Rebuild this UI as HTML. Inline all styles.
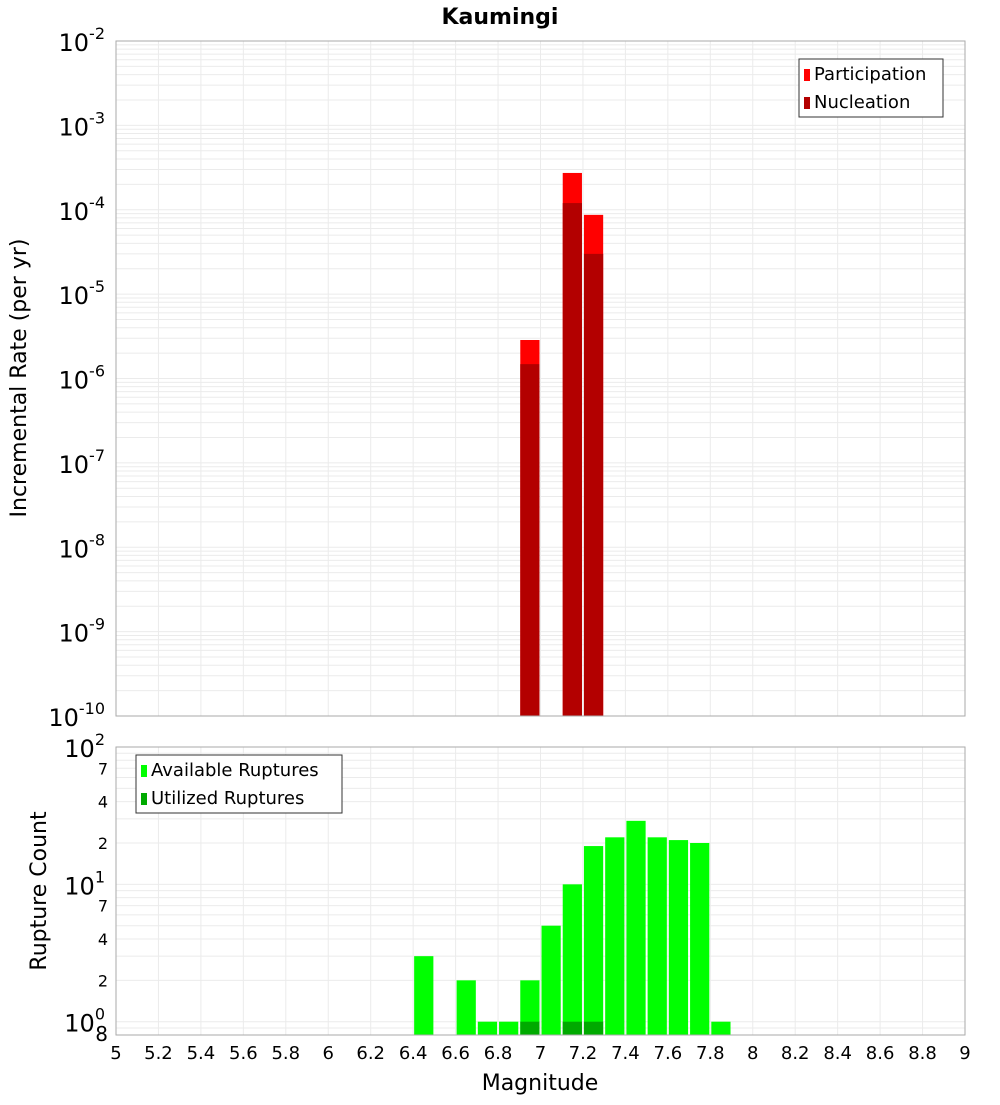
<!DOCTYPE html>
<html><head><meta charset="utf-8"><style>
body{margin:0;background:#fff;font-family:"Liberation Sans","DejaVu Sans",sans-serif}
svg text{font-family:"DejaVu Sans","Liberation Sans",sans-serif}
</style></head><body>
<svg id="chart" width="1000" height="1100" xmlns="http://www.w3.org/2000/svg">
<text x="500" y="24" text-anchor="middle" font-size="22" font-weight="bold">Kaumingi</text>
<g id="topPlot"></g><g id="botPlot"></g>
<text x="540" y="1090" text-anchor="middle" font-size="22">Magnitude</text>
<text transform="translate(26,378) rotate(-90)" text-anchor="middle" font-size="22">Incremental Rate (per yr)</text>
<text transform="translate(46,891) rotate(-90)" text-anchor="middle" font-size="22">Rupture Count</text>
</svg>
<script>
const binCenters=[6.95,7.15,7.25];
const participation=[2.86e-6,2.73e-4,8.7e-5];
const nucleation=[1.48e-6,1.2e-4,3.0e-5];
const countMags=[6.45,6.65,6.75,6.85,6.95,7.05,7.15,7.25,7.35,7.45,7.55,7.65,7.75,7.85];
const available=[3,2,1,1,2,5,10,19,22,29,22,21,20,1];
const utilMags=[6.95,7.15,7.25];
const utilized=[1,1,1];
const xTicks=[5,5.2,5.4,5.6,5.8,6,6.2,6.4,6.6,6.8,7,7.2,7.4,7.6,7.8,8,8.2,8.4,8.6,8.8,9];

const NS="http://www.w3.org/2000/svg";
const X0=116,X1=965;
const sx=m=>X0+(m-5)/4*(X1-X0);
function mk(p,tag,a){const e=document.createElementNS(NS,tag);for(const k in a)e.setAttribute(k,a[k]);p.appendChild(e);return e;}
const gTop=document.getElementById('topPlot'),gBot=document.getElementById('botPlot');
const TT=41,TB=716;const ty=v=>TT+(-2-Math.log10(v))/8*(TB-TT);
const by=v=>747+(2-Math.log10(v))/(2-Math.log10(0.8))*(1035-747);
function grid(g,T,B,yf,lo,hi,minLog){
  for(let d=lo;d<hi;d++)for(let k=1;k<10;k++){const v=k*Math.pow(10,d);if(Math.log10(v)<minLog-1e-9)continue;const y=yf(v);
    const l=mk(g,'line',{x1:X0,x2:X1,y1:y,y2:y,stroke:'#ebebeb','stroke-width':1});
    
    }
  xTicks.forEach(m=>{const l=mk(g,'line',{x1:sx(m),x2:sx(m),y1:T,y2:B,stroke:'#ebebeb','stroke-width':1});
    
    });
}
grid(gTop,TT,TB,ty,-10,-2,-10);
grid(gBot,747,1035,by,-1,2,Math.log10(0.8));
function bar(g,m,v,base,yf,col,name){const x=sx(m-0.05)+1,w=sx(m+0.05)-sx(m-0.05)-2;const y=yf(v);
  const r=mk(g,'rect',{x:x,y:y,width:w,height:base-y,fill:col});
  
  }
binCenters.forEach((m,i)=>bar(gTop,m,participation[i],TB,ty,'#ff0000','participation-bar'));
binCenters.forEach((m,i)=>bar(gTop,m,nucleation[i],TB,ty,'#b30000','nucleation-bar'));
countMags.forEach((m,i)=>bar(gBot,m,available[i],1035,by,'#00ff00','available-bar'));
utilMags.forEach((m,i)=>bar(gBot,m,utilized[i],1035,by,'#00aa00','utilized-bar'));
mk(gTop,'rect',{x:X0,y:TT,width:X1-X0,height:TB-TT,fill:'none',stroke:'#aaa'});
mk(gBot,'rect',{x:X0,y:747,width:X1-X0,height:288,fill:'none',stroke:'#aaa'});
for(let d=-10;d<=-2;d++){const t=mk(gTop,'text',{x:105,y:ty(Math.pow(10,d))+10,'text-anchor':'end','font-size':24});
  
  
  t.textContent='10';const s=mk(t,'tspan',{dy:-12,'font-size':16});s.textContent=String(d);}
for(let d=0;d<=2;d++){const t=mk(gBot,'text',{x:105,y:by(Math.pow(10,d))+10,'text-anchor':'end','font-size':24});
  
  
  t.textContent='10';const s=mk(t,'tspan',{dy:-12,'font-size':16});s.textContent=String(d);}
[[2,0],[4,0],[7,0],[2,1],[4,1],[7,1],[8,-1]].forEach(([k,d])=>{const t=mk(gBot,'text',{x:108,y:by(k*Math.pow(10,d))+6,'text-anchor':'end','font-size':k==8?20:16});
  
  
  t.textContent=String(k);});
xTicks.forEach(m=>{const t=mk(gBot,'text',{x:sx(m),y:1059,'text-anchor':'middle','font-size':18});
  
  
  t.textContent=String(m);});
function legend(g,x,y,w,items){const b=mk(g,'rect',{x:x,y:y,width:w,height:58,fill:'#fff',stroke:'#333'});
  
  
  items.forEach(([c,txt],i)=>{mk(g,'rect',{x:x+5,y:y+10+i*28,width:6,height:12,fill:c});
    const t=mk(g,'text',{x:x+15,y:y+21+i*28,'font-size':18});
    
    
    t.textContent=txt;});}
legend(gTop,799,59,144,[['#ff0000','Participation'],['#b30000','Nucleation']]);
legend(gBot,136,755,206,[['#00ff00','Available Ruptures'],['#00aa00','Utilized Ruptures']]);
</script>
</body></html>
